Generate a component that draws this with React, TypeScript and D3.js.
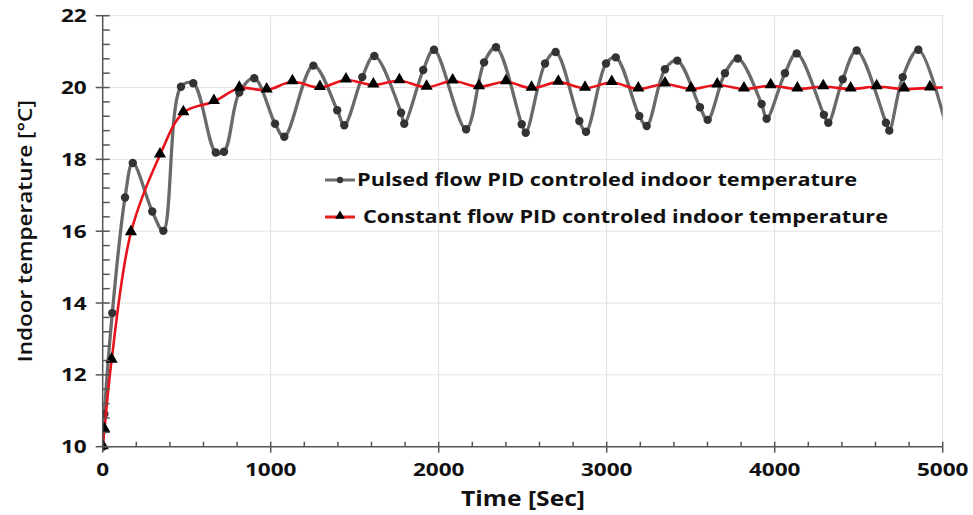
import * as d3 from 'd3';

// [time s, temperature °C]
const PULSED: [number, number][] = [
  [0, 10.0], [10, 10.91], [57, 13.72], [133, 16.94], [179, 17.9], [295, 16.55],
  [361, 16.01], [466, 20.02], [539, 20.12], [673, 18.19], [722, 18.21], [813, 19.86],
  [902, 20.26], [1026, 18.99], [1081, 18.63], [1254, 20.61], [1396, 19.37], [1438, 18.95],
  [1545, 20.29], [1617, 20.88], [1776, 19.3], [1795, 18.99], [1908, 20.49], [1972, 21.05],
  [2163, 18.84], [2270, 20.7], [2341, 21.12], [2494, 18.98], [2518, 18.74], [2633, 20.67],
  [2696, 20.99], [2837, 19.07], [2877, 18.77], [2996, 20.67], [3054, 20.84], [3194, 19.21],
  [3238, 18.93], [3347, 20.51], [3420, 20.75], [3555, 19.45], [3601, 19.1], [3704, 20.4],
  [3780, 20.81], [3922, 19.54], [3952, 19.13], [4061, 20.4], [4131, 20.95], [4293, 19.24],
  [4319, 19.02], [4405, 20.23], [4488, 21.03], [4662, 19.02], [4682, 18.8], [4762, 20.29],
  [4855, 21.05], [5030, 18.75],
];

const CONSTANT: [number, number][] = [
  [0, 10.0], [10, 10.47], [53, 12.41], [168, 15.96], [341, 18.12], [480, 19.3],
  [662, 19.61], [813, 19.98], [976, 19.93], [1129, 20.16], [1293, 20.0], [1448, 20.21],
  [1611, 20.07], [1766, 20.19], [1928, 20.01], [2083, 20.18], [2240, 20.02], [2400, 20.16],
  [2553, 19.98], [2712, 20.15], [2871, 19.98], [3030, 20.14], [3188, 19.96], [3347, 20.1],
  [3502, 19.96], [3658, 20.07], [3817, 19.96], [3976, 20.05], [4135, 19.96], [4289, 20.02],
  [4452, 19.96], [4607, 20.02], [4770, 19.96], [4924, 19.99], [5080, 20.02],
];

const X_TICKS = [0, 1000, 2000, 3000, 4000, 5000];
const Y_TICKS = [10, 12, 14, 16, 18, 20, 22];
const LEGEND = [
  'Pulsed flow PID controled indoor temperature',
  'Constant flow PID controled indoor temperature',
];

const W = 973;
const H = 515;
const left = 102.7;
const right = 942.7;
const top = 15.7;
const bottom = 446.7;
const FONT = "'Open Sans', 'DejaVu Sans', sans-serif";
// the source image is a bit stretched horizontally, so digits are wider than the font
const DIGIT_W = 12.9;

export default function App() {
  const x = d3.scaleLinear().domain([0, 5000]).range([left, right]);
  const y = d3.scaleLinear().domain([10, 22]).range([bottom, top]);

  const line = d3
    .line<[number, number]>()
    .x((d) => x(d[0]))
    .y((d) => y(d[1]))
    .curve(d3.curveCatmullRom.alpha(0.5));

  const xMinor = d3.range(0, 5001, 200).filter((v) => v % 1000 !== 0);
  const yMinor = d3.range(10, 22.001, 0.4).filter((v) => Math.abs(v / 2 - Math.round(v / 2)) > 0.01);

  const tri = d3.symbol(d3.symbolTriangle, 64)() ?? '';
  const triSmall = d3.symbol(d3.symbolTriangle, 40)() ?? '';

  return (
    <>
      <style>{'body{margin:0}'}</style>
      <svg width={W} height={H} style={{ display: 'block', background: '#fff' }}>
        <defs>
          <clipPath id="plot">
            <rect x={left} y={top - 6} width={right - left} height={bottom - top + 12} />
          </clipPath>
        </defs>

        {/* grid */}
        {X_TICKS.slice(1).map((v) => (
          <line key={'gx' + v} x1={x(v)} x2={x(v)} y1={top} y2={bottom} stroke="#e2e2e2" strokeWidth={1} />
        ))}
        {Y_TICKS.slice(1).map((v) => (
          <line key={'gy' + v} x1={left} x2={right} y1={y(v)} y2={y(v)} stroke="#e2e2e2" strokeWidth={1} />
        ))}

        {/* legend */}
        <g fontFamily={FONT} fontWeight={700} fontSize={17} fill="#111">
          <line x1={325} x2={355} y1={180} y2={180} stroke="#6e6e6e" strokeWidth={3} />
          <circle cx={340} cy={180} r={3.2} fill="#333" />
          <text x={357} y={186} textLength={500} lengthAdjust="spacingAndGlyphs">
            {LEGEND[0]}
          </text>
          <line x1={325} x2={355} y1={217} y2={217} stroke="#e41a1c" strokeWidth={3} />
          <path d={triSmall} transform="translate(340,216)" fill="#000" />
          <text x={363} y={223} textLength={525} lengthAdjust="spacingAndGlyphs">
            {LEGEND[1]}
          </text>
        </g>

        <g clipPath="url(#plot)">
          <path d={line(PULSED) ?? ''} fill="none" stroke="#6a6a6a" strokeWidth={3.3} />
          {PULSED.map((d, i) => (
            <circle key={'p' + i} cx={x(d[0])} cy={y(d[1])} r={4.2} fill="#333" />
          ))}
          <path d={line(CONSTANT) ?? ''} fill="none" stroke="#e8141c" strokeWidth={2.6} />
          {CONSTANT.map((d, i) => (
            <path key={'c' + i} d={tri} transform={`translate(${x(d[0])},${y(d[1]) - 1})`} fill="#000" />
          ))}
        </g>

        {/* axes */}
        <g stroke="#555" strokeWidth={1.5}>
          <line x1={left} x2={right} y1={bottom} y2={bottom} />
          <line x1={left} x2={left} y1={top} y2={bottom} />
          {X_TICKS.map((v) => (
            <line key={'xt' + v} x1={x(v)} x2={x(v)} y1={bottom - 5} y2={bottom + 6} />
          ))}
          {xMinor.map((v) => (
            <line key={'xm' + v} x1={x(v)} x2={x(v)} y1={bottom - 5} y2={bottom} />
          ))}
          {Y_TICKS.map((v) => (
            <line key={'yt' + v} x1={left - 7} x2={left + 7} y1={y(v)} y2={y(v)} />
          ))}
          {yMinor.map((v) => (
            <line key={'ym' + v} x1={left} x2={left + 7} y1={y(v)} y2={y(v)} />
          ))}
        </g>

        <g fontFamily={FONT} fontWeight={700} fontSize={18} fill="#111">
          {X_TICKS.map((v) => (
            <text
              key={'xl' + v}
              x={x(v)}
              y={bottom + 29}
              textAnchor="middle"
              textLength={String(v).length * DIGIT_W}
              lengthAdjust="spacingAndGlyphs"
            >
              {v}
            </text>
          ))}
          {Y_TICKS.map((v) => (
            <text
              key={'yl' + v}
              x={left - 16}
              y={y(v) + 6.5}
              textAnchor="end"
              textLength={String(v).length * DIGIT_W}
              lengthAdjust="spacingAndGlyphs"
            >
              {v}
            </text>
          ))}
          <text x={523} y={506} textAnchor="middle" fontSize={21} textLength={124} lengthAdjust="spacingAndGlyphs">
            Time [Sec]
          </text>
        </g>
        <text
          transform={`translate(32,${(top + bottom) / 2}) rotate(-90)`}
          textAnchor="middle"
          fontFamily={FONT}
          fontSize={20.5}
          fontWeight={600}
          fill="#111"
          textLength={262}
          lengthAdjust="spacingAndGlyphs"
        >
          Indoor temperature [°C]
        </text>
      </svg>
    </>
  );
}
